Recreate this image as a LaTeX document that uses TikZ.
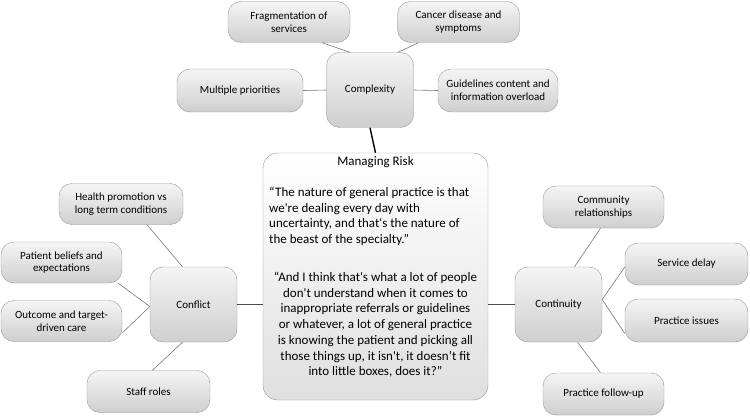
\documentclass[tikz,border=0pt]{standalone}
\usepackage{fontspec}
\setmainfont{Carlito}[Ligatures=TeXOff]
\usepackage{tikz}
\usetikzlibrary{positioning, calc}
\definecolor{boxline}{RGB}{150, 150, 150}
\definecolor{linkgray}{RGB}{120, 120, 120}

\begin{document}
\begin{tikzpicture}[x=1pt, y=-1pt,
    leaf/.style={draw=boxline, rounded corners=13pt, top color=gray!8, bottom color=gray!38,
                 minimum width=122pt, minimum height=41pt, align=center, inner sep=2pt,
                 font=\fontsize{11}{12.8}\selectfont},
    hub/.style={leaf, minimum width=87pt, minimum height=75pt},
    link/.style={draw=linkgray, line width=0.6pt}]
    \useasboundingbox (0,0) rectangle (750,417);

    % Central box
    \node[draw=boxline, rounded corners=15pt, top color=white, bottom color=gray!25,
          minimum width=225pt, minimum height=247pt] (risk) at (375.5,276.5) {};
    \node[font=\fontsize{13}{15.7}\selectfont] (risktitle) at (375.5,162) {Managing Risk};
    \node[font=\fontsize{13}{15.7}\selectfont, align=left, anchor=north west, inner sep=0pt] (quoteone) at (269,187)
        {“The nature of general practice is that\\we're dealing every day with\\uncertainty, and that's the nature of\\the beast of the specialty.”};
    \node[font=\fontsize{13}{15.7}\selectfont, align=center, anchor=north, inner sep=0pt] (quotetwo) at (375.5,272)
        {“And I think that's what a lot of people\\don't understand when it comes to\\inappropriate referrals or guidelines\\or whatever, a lot of general practice\\is knowing the patient and picking all\\those things up, it isn't, it doesn’t fit\\into little boxes, does it?”};

    % Complexity
    \node[hub] (cx) at (370,90) {Complexity};
    \node[leaf] (frag) at (289,22) {Fragmentation of\\services};
    \node[leaf] (cancer) at (458.5,22) {Cancer disease and\\symptoms};
    \node[leaf, minimum width=126pt, minimum height=43pt] (multi) at (240,90.5) {Multiple priorities};
    \node[leaf, minimum width=120pt, minimum height=43pt] (guide) at (498,90.5) {Guidelines content and\\information overload};

    % Conflict
    \node[hub] (conflict) at (193.5,304.5) {Conflict};
    \node[leaf, minimum width=124pt] (health) at (121,204) {Health promotion vs\\long term conditions};
    \node[leaf, minimum width=121pt] (patient) at (61.5,262.5) {Patient beliefs and\\expectations};
    \node[leaf, minimum width=121pt] (outcome) at (61.5,321) {Outcome and target-\\driven care};
    \node[leaf, minimum width=123pt, minimum height=42pt] (staff) at (148.5,391.5) {Staff roles};

    % Continuity
    \node[hub] (cont) at (558.5,304.5) {Continuity};
    \node[leaf, minimum width=121pt, minimum height=42pt] (comm) at (603.5,207) {Community\\relationships};
    \node[leaf, minimum width=123pt, minimum height=42pt] (delay) at (686.5,264) {Service delay};
    \node[leaf, minimum width=123pt, minimum height=43pt] (issues) at (686.5,320.5) {Practice issues};
    \node[leaf, minimum width=121pt, minimum height=42pt] (follow) at (603.5,394) {Practice follow-up};

    % Connections
    \draw[line width=1.4pt] (cx.south) -- (risk.north);
    \draw[link, draw=gray!60!black] (conflict.east) -- (conflict.east -| risk.west);
    \draw[link, draw=gray!60!black] (risk.east |- cont.west) -- (cont.west);

    \draw[link] ([xshift=-20pt]cx.north) -- ([xshift=33pt]frag.south);
    \draw[link] ([xshift=28pt]cx.north) -- ([xshift=-40pt]cancer.south);
    \draw[link] (multi.east) -- (cx.west);
    \draw[link] (cx.east) -- (guide.west);

    \draw[link] ([xshift=26pt]health.south) -- ([xshift=-11pt]conflict.north);
    \draw[link] ([xshift=-4pt]patient.south east) -- ([yshift=-2pt]conflict.west);
    \draw[link] ([yshift=-12pt]outcome.east) -- ([yshift=-2pt]conflict.west);
    \draw[link] ([xshift=-11pt]conflict.south) -- ([xshift=4pt]staff.north);

    \draw[link] ([xshift=-3pt]comm.south) -- ([xshift=16pt]cont.north);
    \draw[link] ([yshift=5pt]cont.east) -- ([yshift=-3pt]delay.west);
    \draw[link] ([yshift=5pt]cont.east) -- ([yshift=-13pt]issues.west);
    \draw[link] ([xshift=19pt]cont.south) -- ([xshift=-3pt]follow.north);
\end{tikzpicture}
\end{document}
